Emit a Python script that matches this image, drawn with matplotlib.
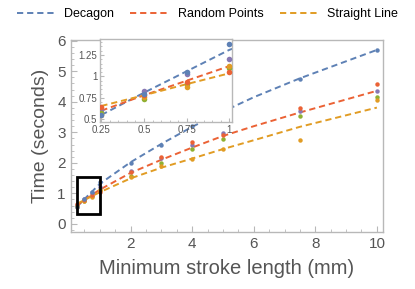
import numpy as np
import matplotlib
matplotlib.use("Agg")
import matplotlib.pyplot as plt
from matplotlib.patches import Rectangle
from matplotlib.ticker import MultipleLocator

# ---- data ----
x_pts = [0.25, 0.5, 0.75, 1, 2, 3, 4, 5, 7.5, 10]
decagon_pts = [0.55, 0.80, 1.05, 1.375, 2.00, 2.60, 3.20, 3.76, 4.76, 5.71]
random_pts = [0.647, 0.783, 0.94, 1.055, 1.70, 2.18, 2.67, 2.90, 3.80, 4.57]
purple_pts = [0.608, 0.83, 1.025, 1.203, 1.73, 2.15, 2.58, 2.98, 3.69, 4.35]
green_pts = [0.57, 0.737, 0.91, 1.095, 1.57, 1.98, 2.44, 2.77, 3.53, 4.16]
straight_pts = [0.55, 0.76, 0.873, 1.125, 1.52, 1.90, 2.11, 2.45, 2.75, 4.05]

x_fit = [0.25, 0.5, 0.75, 1, 2, 3, 4, 5, 6, 7.5, 10]
decagon_fit = [0.55, 0.81, 1.06, 1.31, 2.02, 2.62, 3.18, 3.68, 4.15, 4.77, 5.70]
random_fit = [0.60, 0.78, 0.95, 1.12, 1.67, 2.10, 2.50, 2.88, 3.20, 3.65, 4.36]
straight_fit = [0.655, 0.78, 0.91, 1.036, 1.49, 1.84, 2.14, 2.45, 2.74, 3.18, 3.81]

series_names = ["Decagon", "Random Points", "Straight Line"]

# Mathematica default palette
c_blue = "#5E81B5"
c_red = "#EB6235"
c_orange = "#E19C24"
c_green = "#8FB032"
c_purple = "#8778B3"
frame_col = "#b8b8b8"
text_col = "#555555"

plt.rcParams["font.family"] = ["Liberation Sans", "DejaVu Sans"]

fig = plt.figure(figsize=(4.15, 2.89), dpi=100)
ax = fig.add_axes([0.170, 0.197, 0.753, 0.664])


def draw_series(a, ms):
    for ys, c in [(purple_pts, c_purple), (green_pts, c_green),
                  (straight_pts, c_orange), (random_pts, c_red),
                  (decagon_pts, c_blue)]:
        a.plot(x_pts, ys, "o", color=c, ms=ms, mec="none", zorder=3)
    for ys, c, name in [(decagon_fit, c_blue, series_names[0]),
                        (random_fit, c_red, series_names[1]),
                        (straight_fit, c_orange, series_names[2])]:
        a.plot(x_fit, ys, ls=(0, (3.2, 2.0)), color=c, lw=1.4, label=name,
               zorder=2)


def style_axes(a, fs):
    for s in a.spines.values():
        s.set_color(frame_col)
        s.set_linewidth(1.0)
    a.tick_params(which="both", direction="in", colors=frame_col,
                  labelcolor=text_col, labelsize=fs, top=False, right=False)
    a.tick_params(which="major", length=4)
    a.tick_params(which="minor", length=2)


draw_series(ax, 3.2)
ax.set_xlim(0.05, 10.2)
ax.set_ylim(-0.27, 6.02)
ax.xaxis.set_major_locator(MultipleLocator(2))
ax.xaxis.set_minor_locator(MultipleLocator(0.5))
ax.yaxis.set_major_locator(MultipleLocator(1))
ax.yaxis.set_minor_locator(MultipleLocator(0.2))
style_axes(ax, 11)
ax.set_xlabel("Minimum stroke length (mm)", fontsize=14.5, color=text_col,
              labelpad=6)
ax.set_ylabel("Time (seconds)", fontsize=14, color=text_col, labelpad=6)

# zoom box
ax.add_patch(Rectangle((0.25, 0.33), 0.75, 1.2, fill=False, ec="black",
                       lw=2.0, zorder=5))

# legend above the plot
handles, labels = ax.get_legend_handles_labels()
fig.legend(handles, labels, loc="center", bbox_to_anchor=(0.5, 0.95),
           ncol=3, frameon=False, fontsize=9, handlelength=3.0,
           columnspacing=1.3, handletextpad=0.8)

# ---- inset ----
axin = fig.add_axes([0.241, 0.578, 0.318, 0.287])
axin.set_facecolor("white")
draw_series(axin, 4.0)
axin.set_xlim(0.242, 1.016)
axin.set_ylim(0.468, 1.437)
axin.set_xticks([0.25, 0.5, 0.75, 1])
axin.set_xticklabels(["0.25", "0.5", "0.75", "1"])
axin.set_yticks([0.5, 0.75, 1, 1.25])
axin.set_yticklabels(["0.5", "0.75", "1", "1.25"])
axin.xaxis.set_minor_locator(MultipleLocator(0.05))
axin.yaxis.set_minor_locator(MultipleLocator(0.05))
style_axes(axin, 7)
axin.tick_params(which="major", length=3, pad=2)
axin.tick_params(which="minor", length=1.5)

fig.savefig("out.png", dpi=100)
